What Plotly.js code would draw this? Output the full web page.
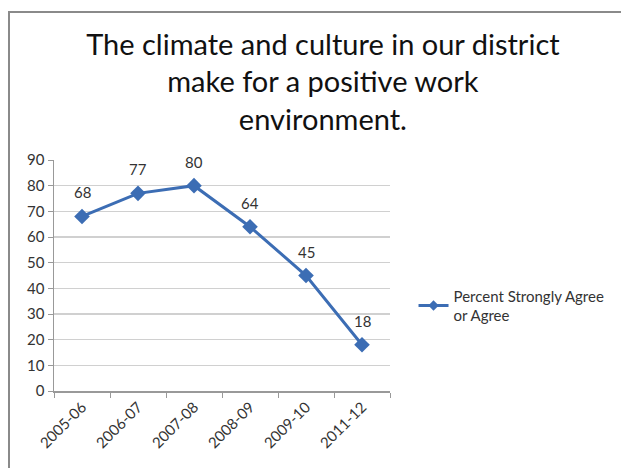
<!DOCTYPE html>
<html>
<head>
<meta charset="utf-8">
<script src="https://cdn.plot.ly/plotly-3.0.1.min.js"></script>
<style>
  html, body { margin: 0; padding: 0; background: #fff; }
  #wrap { position: relative; width: 621px; height: 468px; overflow: hidden; }
  #frame { position: absolute; left: 8px; top: 11px; width: 700px; height: 600px;
           border-top: 2px solid #8a8a8a; border-left: 2px solid #8a8a8a; pointer-events: none; }
  #chart { position: absolute; left: 0; top: 0; width: 621px; height: 468px; }
</style>
</head>
<body>
<div id="wrap">
  <div id="chart"></div>
  <div id="frame"></div>
</div>
<script>
const categories = ["2005-06", "2006-07", "2007-08", "2008-09", "2009-10", "2011-12"];
const values = [68, 77, 80, 64, 45, 18];
const seriesName = "Percent Strongly Agree<br>or Agree";
const yTicks = [0, 10, 20, 30, 40, 50, 60, 70, 80, 90];
const titleText = "The climate and culture in our district<br>make for a positive work<br>environment.";

const FONT = "Lato, 'Open Sans', sans-serif";
const blue = "#3c6db4";

const trace = {
  type: "scatter",
  mode: "lines+markers",
  x: categories,
  y: values,
  name: seriesName,
  showlegend: false,
  line: { color: blue, width: 3 },
  marker: { symbol: "diamond", size: 12, color: blue },
  cliponaxis: false
};

// legend entry with a smaller marker, as in the reference legend
const legendTrace = {
  type: "scatter",
  mode: "lines+markers",
  x: [null], y: [null],
  name: seriesName,
  showlegend: true,
  line: { color: blue, width: 3 },
  marker: { symbol: "diamond", size: 8, color: blue }
};

const annotations = categories.map((c, i) => ({
  x: c, y: values[i], text: String(values[i]),
  showarrow: false, yshift: 24, xref: "x", yref: "y",
  font: { family: FONT, size: 15, color: "#333" }
}));

const layout = {
  width: 621, height: 468,
  margin: { l: 54, r: 231, t: 160, b: 77 },
  paper_bgcolor: "#fff", plot_bgcolor: "#fff",
  title: {
    text: titleText,
    font: { family: FONT, size: 29, color: "#111" },
    x: 0.52, xanchor: "center", xref: "container",
    y: 0.883, yanchor: "middle", yref: "container"
  },
  showlegend: true,
  legend: {
    x: 1.07, xanchor: "left", y: 0.37, yanchor: "middle",
    font: { family: FONT, size: 15, color: "#333" },
    bgcolor: "rgba(0,0,0,0)"
  },
  xaxis: {
    type: "category",
    range: [-0.5, 5.5],
    tickson: "boundaries",
    ticks: "outside", ticklen: 5, tickcolor: "#999",
    showline: true, linecolor: "#999", linewidth: 1.5,
    showgrid: false,
    tickangle: -45,
    tickfont: { family: FONT, size: 15, color: "#333" },
    fixedrange: true
  },
  yaxis: {
    range: [0, 90],
    tickvals: yTicks,
    ticks: "outside", ticklen: 5, tickcolor: "#999",
    showline: true, linecolor: "#999", linewidth: 1.5,
    showgrid: true, gridcolor: "#d0d0d0", gridwidth: 1.5,
    zeroline: false,
    tickfont: { family: FONT, size: 15, color: "#333" },
    fixedrange: true
  },
  annotations: annotations
};

Plotly.newPlot("chart", [trace, legendTrace], layout, { displayModeBar: false, staticPlot: true });
</script>
</body>
</html>
